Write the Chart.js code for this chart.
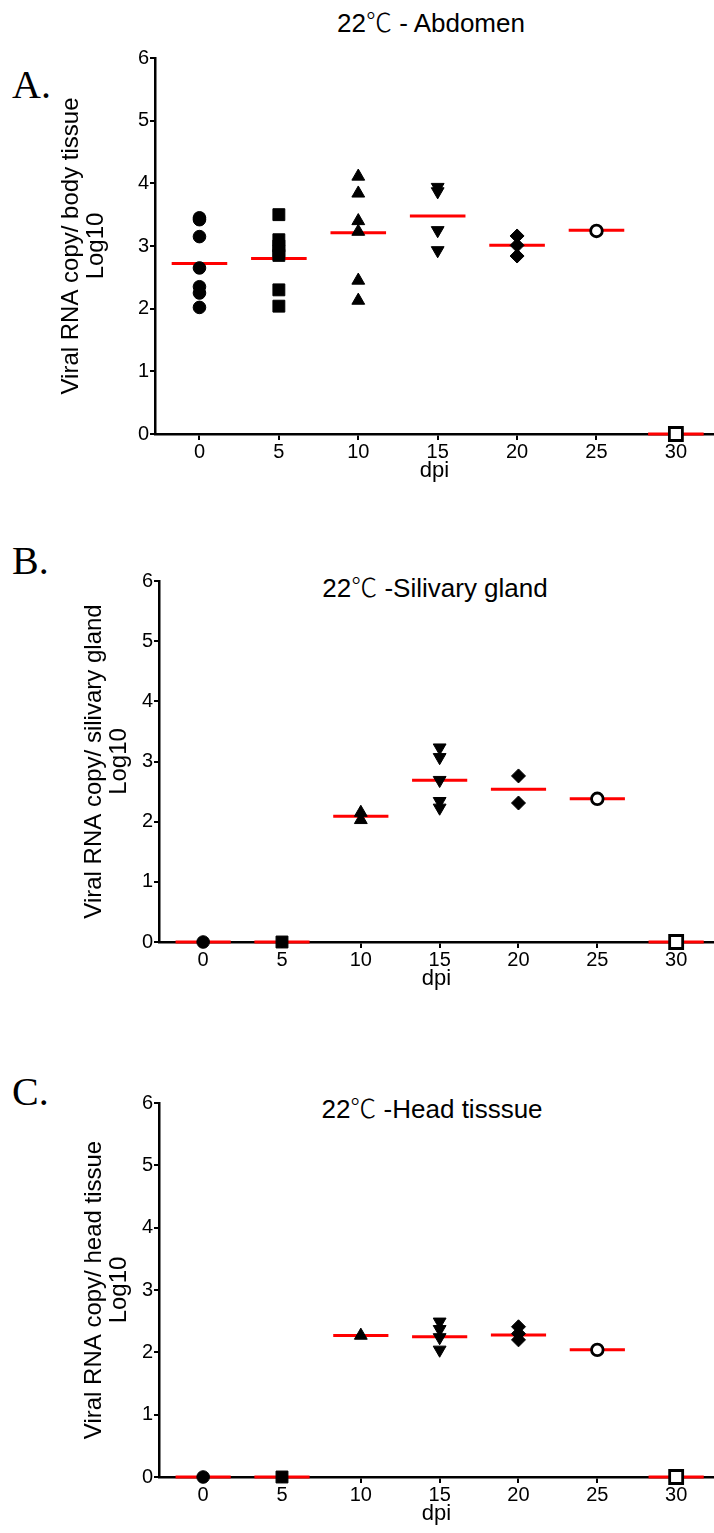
<!DOCTYPE html>
<html>
<head>
<meta charset="utf-8">
<script src="https://cdn.jsdelivr.net/npm/chart.js@4.4.0/dist/chart.umd.min.js"></script>
<style>
  body { margin: 0; background: #fff; }
  #page { position: relative; width: 714px; height: 1533px; overflow: hidden;
          font-family: "Liberation Sans", Arial, sans-serif; color: #000; }
  canvas { position: absolute; left: 0; }
  .letter { position: absolute; left: 12px; font-family: "Liberation Serif", "Times New Roman", serif;
            font-size: 40px; line-height: 1; transform: translateY(-50%); }
  .title { position: absolute; font-size: 26px; line-height: 1; white-space: nowrap;
           transform: translate(-50%, -50%); }
  .deg { font-family: "Noto Sans CJK SC", sans-serif; font-weight: 300; }
</style>
</head>
<body>
<div id="page">
  <div class="letter" style="top:85px">A.</div>
  <div class="title" style="left:431px;top:22px">22<span class="deg">℃</span> - Abdomen</div>
  <canvas id="chartA"></canvas>

  <div class="letter" style="top:561px">B.</div>
  <div class="title" style="left:435px;top:587px">22<span class="deg">℃</span> -Silivary gland</div>
  <canvas id="chartB"></canvas>

  <div class="letter" style="top:1092px">C.</div>
  <div class="title" style="left:432px;top:1108px">22<span class="deg">℃</span> -Head tisssue</div>
  <canvas id="chartC"></canvas>
</div>
<script>
const dpi = [0, 5, 10, 15, 20, 25, 30];
const yTicks = [0, 1, 2, 3, 4, 5, 6];

// A - abdomen, one list of points per dpi
const abdomenValues = [
  [3.45, 3.42, 3.15, 2.65, 2.35, 2.25, 2.02],
  [3.50, 3.10, 3.00, 2.92, 2.85, 2.30, 2.04],
  [4.11, 3.84, 3.40, 3.23, 2.45, 2.13],
  [3.94, 3.87, 3.25, 2.93],
  [3.16, 3.01, 2.84],
  [3.24],
  [0]
];
const abdomenMeans = [2.72, 2.80, 3.21, 3.48, 3.01, 3.25, 0];

// B - salivary gland
const glandValues = [
  [0],
  [0],
  [2.15, 2.03],
  [3.23, 3.07, 2.69, 2.34, 2.23],
  [2.76, 2.31],
  [2.38],
  [0]
];
const glandMeans = [0, 0, 2.09, 2.69, 2.54, 2.38, 0];

// C - head tissue
const headValues = [
  [0],
  [0],
  [2.27],
  [2.49, 2.37, 2.24, 2.04],
  [2.41, 2.30, 2.20],
  [2.04],
  [0]
];
const headMeans = [0, 0, 2.27, 2.25, 2.28, 2.04, 0];

// marker per dpi group (Prism style)
const markers = [
  { style: 'circle', r: 6.3, fill: '#000', bw: 1 },
  { style: 'rect', r: 8.4, fill: '#000', bw: 1 },
  { style: 'triangle', r: 7.4, fill: '#000', bw: 1 },
  { style: 'triangle', r: 7.4, fill: '#000', bw: 1, rot: 180 },
  { style: 'rectRot', r: 7, fill: '#000', bw: 1 },
  { style: 'circle', r: 5.8, fill: '#fff', bw: 2.8 },
  { style: 'rect', r: 9.2, fill: '#fff', bw: 2.8 }
];

const halfBar = 1.75;
const fontFamily = '"Liberation Sans", Arial, sans-serif';

const panels = [
  { id: 'chartA', values: abdomenValues, means: abdomenMeans,
    yTitle: ['Viral RNA copy/ body tissue', 'Log10'],
    canvasTop: 0, plotTop: 58, plotBottom: 434, axisLeft: 155, yTitleX: 71 },
  { id: 'chartB', values: glandValues, means: glandMeans,
    yTitle: ['Viral RNA copy/ silivary gland', 'Log10'],
    canvasTop: 520, plotTop: 581, plotBottom: 942, axisLeft: 159, yTitleX: 94 },
  { id: 'chartC', values: headValues, means: headMeans,
    yTitle: ['Viral RNA copy/ head tissue', 'Log10'],
    canvasTop: 1040, plotTop: 1103, plotBottom: 1477, axisLeft: 159, yTitleX: 94 }
];

function buildDatasets(values, means) {
  const sets = [];
  // red mean bars, gaps between groups
  const bars = [];
  dpi.forEach((d, i) => {
    bars.push({ x: d - halfBar, y: means[i] });
    bars.push({ x: d + halfBar, y: means[i] });
    bars.push({ x: d + 2.5, y: null });
  });
  sets.push({
    type: 'line', data: bars, borderColor: '#ff0000', borderWidth: 3,
    pointRadius: 0, spanGaps: false, clip: false, order: 2
  });
  values.forEach((list, i) => {
    const m = markers[i];
    sets.push({
      type: 'scatter',
      data: list.map(v => ({ x: dpi[i], y: v })),
      pointStyle: m.style, pointRadius: m.r, pointRotation: m.rot || 0,
      backgroundColor: m.fill, borderColor: '#000', borderWidth: m.bw,
      clip: false, order: 1
    });
  });
  return sets;
}

panels.forEach(p => {
  const titleLine = 25;
  const xAxisHeight = 50;
  const height = p.plotBottom - p.canvasTop + xAxisHeight;
  const canvas = document.getElementById(p.id);
  canvas.width = 714;
  canvas.height = height;
  canvas.style.top = p.canvasTop + 'px';

  new Chart(canvas.getContext('2d'), {
    type: 'scatter',
    data: { datasets: buildDatasets(p.values, p.means) },
    options: {
      responsive: false,
      animation: false,
      devicePixelRatio: 1,
      layout: { autoPadding: false, padding: { top: p.plotTop - p.canvasTop, left: 0, right: 0, bottom: 0 } },
      plugins: { legend: { display: false }, tooltip: { enabled: false } },
      scales: {
        x: {
          type: 'linear', min: -2.8, max: 32.4,
          afterBuildTicks: s => { s.ticks = dpi.map(v => ({ value: v })); },
          afterFit: s => { s.height = xAxisHeight; s.paddingLeft = 0; s.paddingRight = 0; },
          border: { color: '#000', width: 2.5 },
          grid: { drawOnChartArea: false, drawTicks: true, tickLength: 6, color: '#000', lineWidth: 2 },
          ticks: { color: '#000', font: { family: fontFamily, size: 20 }, padding: 0, maxRotation: 0, autoSkip: false },
          title: { display: true, text: 'dpi', color: '#000',
                   font: { family: fontFamily, size: 22 },
                   padding: { top: 0, bottom: 0 } }
        },
        y: {
          type: 'linear', min: 0, max: 6,
          afterBuildTicks: s => { s.ticks = yTicks.map(v => ({ value: v })); },
          afterFit: s => { s.width = p.axisLeft; },
          border: { color: '#000', width: 2.5 },
          grid: { drawOnChartArea: false, drawTicks: true, tickLength: 5, color: '#000', lineWidth: 2 },
          ticks: { color: '#000', font: { family: fontFamily, size: 20 }, padding: 1 },
          title: { display: true, text: p.yTitle, color: '#000',
                   font: { family: fontFamily, size: 24, lineHeight: titleLine / 24 },
                   padding: { top: p.yTitleX - titleLine / 2, bottom: 0 } }
        }
      }
    }
  });
});
</script>
</body>
</html>
